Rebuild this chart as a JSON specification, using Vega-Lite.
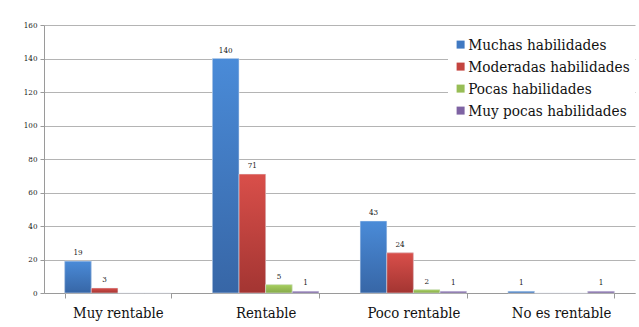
{
  "$schema": "https://vega.github.io/schema/vega-lite/v6.json",
  "autosize": {"type": "none"},
  "width": 591,
  "height": 268,
  "padding": {"left": 44, "top": 25, "right": 4, "bottom": 34},
  "background": "white",
  "data": {
    "values": [
      {"rentabilidad": "Muy rentable", "habilidades": "Muchas habilidades", "n": 19},
      {"rentabilidad": "Muy rentable", "habilidades": "Moderadas habilidades", "n": 3},
      {"rentabilidad": "Muy rentable", "habilidades": "Pocas habilidades", "n": 0},
      {"rentabilidad": "Muy rentable", "habilidades": "Muy pocas habilidades", "n": 0},
      {"rentabilidad": "Rentable", "habilidades": "Muchas habilidades", "n": 140},
      {"rentabilidad": "Rentable", "habilidades": "Moderadas habilidades", "n": 71},
      {"rentabilidad": "Rentable", "habilidades": "Pocas habilidades", "n": 5},
      {"rentabilidad": "Rentable", "habilidades": "Muy pocas habilidades", "n": 1},
      {"rentabilidad": "Poco rentable", "habilidades": "Muchas habilidades", "n": 43},
      {"rentabilidad": "Poco rentable", "habilidades": "Moderadas habilidades", "n": 24},
      {"rentabilidad": "Poco rentable", "habilidades": "Pocas habilidades", "n": 2},
      {"rentabilidad": "Poco rentable", "habilidades": "Muy pocas habilidades", "n": 1},
      {"rentabilidad": "No es rentable", "habilidades": "Muchas habilidades", "n": 1},
      {"rentabilidad": "No es rentable", "habilidades": "Moderadas habilidades", "n": 0},
      {"rentabilidad": "No es rentable", "habilidades": "Pocas habilidades", "n": 0},
      {"rentabilidad": "No es rentable", "habilidades": "Muy pocas habilidades", "n": 1}
    ]
  },
  "encoding": {
    "x": {
      "field": "rentabilidad",
      "type": "nominal",
      "scale": {
        "domain": ["Muy rentable", "Rentable", "Poco rentable", "No es rentable"],
        "paddingInner": 0.28,
        "paddingOuter": 0.14
      },
      "axis": {
        "title": null,
        "labelAngle": 0,
        "labelFont": "DejaVu Serif Condensed",
        "labelFontSize": 14.8,
        "labelColor": "#111111",
        "labelPadding": 7,
        "tickBand": "extent",
        "tickSize": 5,
        "tickColor": "#9a9a9a",
        "domainColor": "#9a9a9a",
        "grid": false
      }
    },
    "xOffset": {
      "field": "habilidades",
      "type": "nominal",
      "scale": {
        "domain": ["Muchas habilidades", "Moderadas habilidades", "Pocas habilidades", "Muy pocas habilidades"],
        "paddingInner": 0,
        "paddingOuter": 0
      }
    },
    "y": {
      "field": "n",
      "type": "quantitative",
      "scale": {"domain": [0, 160], "nice": false},
      "axis": {
        "title": null,
        "values": [0, 20, 40, 60, 80, 100, 120, 140, 160],
        "labelFont": "DejaVu Serif Condensed",
        "labelFontSize": 8,
        "labelColor": "#222222",
        "labelPadding": 3,
        "tickSize": 4,
        "tickColor": "#9a9a9a",
        "domainColor": "#9a9a9a",
        "gridColor": "#b4b4b4",
        "gridWidth": 1
      }
    }
  },
  "layer": [
    {
      "mark": {"type": "bar"},
      "encoding": {
        "color": {
          "field": "habilidades",
          "type": "nominal",
          "scale": {
            "domain": ["Muchas habilidades", "Moderadas habilidades", "Pocas habilidades", "Muy pocas habilidades"],
            "range": ["#4079c2", "#c4443f", "#97bd55", "#7e63a3"]
          },
          "legend": {
            "title": null,
            "orient": "none",
            "legendX": 404,
            "legendY": 7,
            "fillColor": "white",
            "padding": 5,
            "symbolType": "square",
            "symbolSize": 64,
            "symbolStrokeWidth": 0,
            "labelFont": "DejaVu Serif Condensed",
            "labelFontSize": 15.2,
            "labelColor": "#111111",
            "labelOffset": 0,
            "rowPadding": 6,
            "labelLimit": 300
          }
        }
      }
    },
    {
      "mark": {"type": "bar", "stroke": "#e8eef6", "strokeWidth": 0.5},
      "encoding": {
        "fill": {
          "condition": [
            {"test": "datum.habilidades === 'Muchas habilidades'", "value": {"gradient": "linear", "x1": 0, "y1": 0, "x2": 0, "y2": 1, "stops": [{"offset": 0, "color": "#4a8bd8"}, {"offset": 1, "color": "#3766a6"}]}},
            {"test": "datum.habilidades === 'Moderadas habilidades'", "value": {"gradient": "linear", "x1": 0, "y1": 0, "x2": 0, "y2": 1, "stops": [{"offset": 0, "color": "#d94f4a"}, {"offset": 1, "color": "#a33532"}]}},
            {"test": "datum.habilidades === 'Pocas habilidades'", "value": {"gradient": "linear", "x1": 0, "y1": 0, "x2": 0, "y2": 1, "stops": [{"offset": 0, "color": "#a7cf5f"}, {"offset": 1, "color": "#86a94a"}]}}
          ],
          "value": {"gradient": "linear", "x1": 0, "y1": 0, "x2": 0, "y2": 1, "stops": [{"offset": 0, "color": "#8f72b3"}, {"offset": 1, "color": "#6c5391"}]}
        }
      }
    },
    {
      "transform": [{"filter": "datum.n > 0"}],
      "mark": {
        "type": "text",
        "baseline": "bottom",
        "dy": -4,
        "font": "DejaVu Serif Condensed",
        "fontSize": 8,
        "color": "#222222"
      },
      "encoding": {
        "text": {"field": "n", "type": "quantitative"}
      }
    }
  ],
  "config": {
    "view": {"stroke": null}
  }
}
